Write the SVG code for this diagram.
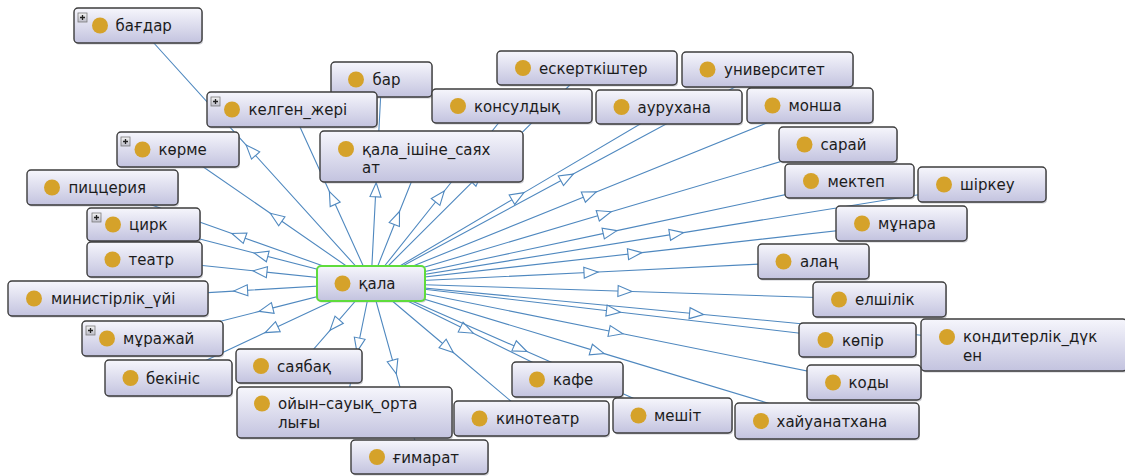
<svg xmlns="http://www.w3.org/2000/svg" width="1125" height="476" viewBox="0 0 1125 476">
<style>
.bg{fill:#fff}
.edges path{fill:none;stroke:#4f88bf;stroke-width:1.1;marker-mid:url(#tri)}
.node rect.box{fill:url(#ng);stroke:#3c3c3c;stroke-width:1.4}
.node rect.sh{fill:#8a8a9a;opacity:.45}
.node circle{fill:#d5a22a}
.node text{font-family:"DejaVu Sans","Noto Sans",sans-serif;font-size:15px;fill:#1c1c1c}
.plus rect{fill:url(#pg);stroke:#7a7a7a;stroke-width:.8}
.plus path{stroke:#222;stroke-width:1.3;fill:none}
#n-qala rect.box{stroke:#5fdc3c;stroke-width:2}
</style>
<defs>
<linearGradient id="ng" x1="0" y1="0" x2="0" y2="1">
<stop offset="0" stop-color="#f6f6fc"/>
<stop offset="1" stop-color="#c3c3df"/>
</linearGradient>
<linearGradient id="pg" x1="0" y1="0" x2="0" y2="1">
<stop offset="0" stop-color="#f4f4f4"/>
<stop offset="1" stop-color="#bcbcc8"/>
</linearGradient>
<marker id="tri" markerUnits="userSpaceOnUse" viewBox="-16 -8 18 16" refX="0" refY="0" markerWidth="18" markerHeight="16" orient="auto" overflow="visible">
<path d="M0,0 L-14,-5.5 L-14,5.5 Z" fill="#fff" stroke="#4f88bf" stroke-width="1.1" stroke-linejoin="miter"/>
</marker>
</defs>
<rect class="bg" x="0" y="0" width="1125" height="476"/>
<g id="connectors" class="edges">
<path d="M371 283 L246.2 145.1 L138 25.5"/>
<path d="M371 283 L329.4 191.6 L292 109.5"/>
<path d="M371 283 L376.2 182.8 L381.5 79.5"/>
<path d="M371 283 L270.3 213.3 L178 149.5"/>
<path d="M371 283 L399.5 211.5 L421.5 156.5"/>
<path d="M371 283 L482 172.4 L587 68"/>
<path d="M371 283 L573.2 174.1 L767.5 69.5"/>
<path d="M371 283 L444.3 191 L512 106"/>
<path d="M371 283 L524 192.6 L669 107"/>
<path d="M371 283 L596.3 191.9 L810 105.5"/>
<path d="M371 283 L611.2 211.8 L838 144.5"/>
<path d="M371 283 L616.9 230.6 L849.5 181"/>
<path d="M371 283 L683.5 232.6 L982 184.5"/>
<path d="M371 283 L641.9 252.6 L901.5 223.5"/>
<path d="M371 283 L598 272 L813.5 261.5"/>
<path d="M371 283 L632 291.5 L879.5 299.5"/>
<path d="M371 283 L620.4 312.2 L857.5 340"/>
<path d="M371 283 L703.5 314.5 L1024 345"/>
<path d="M371 283 L622.8 333.8 L864 382.5"/>
<path d="M371 283 L604.2 353.6 L827 421"/>
<path d="M371 283 L231.9 233.5 L102.5 187.5"/>
<path d="M371 283 L254.2 253 L143.5 224.5"/>
<path d="M371 283 L253 270.8 L144.5 259.5"/>
<path d="M371 283 L233.6 291.1 L108 298.5"/>
<path d="M371 283 L259.2 311.4 L152.5 338.5"/>
<path d="M371 283 L265.2 332.6 L168.5 378"/>
<path d="M371 283 L330 330.3 L299 366"/>
<path d="M371 283 L356.9 351.9 L344.5 412.5"/>
<path d="M371 283 L396.3 373.8 L419.5 457"/>
<path d="M371 283 L453.3 352.5 L531.5 418.5"/>
<path d="M371 283 L473.2 333.2 L567.5 379.5"/>
<path d="M371 283 L526.9 351.5 L672.5 415.5"/>
</g>
<g id="n-bagdar" class="node"><rect class="sh" x="75" y="9.5" width="128" height="35" rx="4"/><rect class="box" x="74" y="8" width="128" height="35" rx="4"/><g class="plus"><rect x="78" y="13" width="9" height="9"/><path d="M80 17.5h5M82.5 15v5"/></g><circle cx="100" cy="25.5" r="8"/><text x="115.5" y="31">бағдар</text></g>
<g id="n-bar" class="node"><rect class="sh" x="332" y="63.5" width="101" height="35" rx="4"/><rect class="box" x="331" y="62" width="101" height="35" rx="4"/><circle cx="356" cy="79.5" r="8"/><text x="372.5" y="85">бар</text></g>
<g id="n-kelgen" class="node"><rect class="sh" x="208" y="93.5" width="170" height="35" rx="4"/><rect class="box" x="207" y="92" width="170" height="35" rx="4"/><g class="plus"><rect x="211" y="97" width="9" height="9"/><path d="M213 101.5h5M215.5 99v5"/></g><circle cx="232" cy="109.5" r="8"/><text x="248.5" y="115">келген_жері</text></g>
<g id="n-korme" class="node"><rect class="sh" x="118" y="133.5" width="122" height="35" rx="4"/><rect class="box" x="117" y="132" width="122" height="35" rx="4"/><g class="plus"><rect x="121" y="137" width="9" height="9"/><path d="M123 141.5h5M125.5 139v5"/></g><circle cx="142.5" cy="149.5" r="8"/><text x="158.5" y="155">көрме</text></g>
<g id="n-qala-ishine" class="node"><rect class="sh" x="321" y="132.5" width="203" height="51" rx="4"/><rect class="box" x="320" y="131" width="203" height="51" rx="4"/><circle cx="346" cy="149" r="8"/><text x="362" y="154.5">қала_ішіне_саях</text><text x="362" y="172.5">ат</text></g>
<g id="n-eskertkishter" class="node"><rect class="sh" x="498" y="52.5" width="180" height="34" rx="4"/><rect class="box" x="497" y="51" width="180" height="34" rx="4"/><circle cx="523" cy="68" r="8"/><text x="539" y="73.5">ескерткіштер</text></g>
<g id="n-universitet" class="node"><rect class="sh" x="683" y="53.5" width="171" height="35" rx="4"/><rect class="box" x="682" y="52" width="171" height="35" rx="4"/><circle cx="707.5" cy="69.5" r="8"/><text x="724" y="75">университет</text></g>
<g id="n-konsuldyq" class="node"><rect class="sh" x="433" y="90.5" width="160" height="34" rx="4"/><rect class="box" x="432" y="89" width="160" height="34" rx="4"/><circle cx="458" cy="106" r="8"/><text x="474" y="111.5">консулдық</text></g>
<g id="n-aurukhana" class="node"><rect class="sh" x="597" y="91.5" width="146" height="34" rx="4"/><rect class="box" x="596" y="90" width="146" height="34" rx="4"/><circle cx="621.5" cy="107" r="8"/><text x="637.5" y="112.5">аурухана</text></g>
<g id="n-monsha" class="node"><rect class="sh" x="748" y="89.5" width="126" height="35" rx="4"/><rect class="box" x="747" y="88" width="126" height="35" rx="4"/><circle cx="772.5" cy="105.5" r="8"/><text x="788.5" y="111">монша</text></g>
<g id="n-saray" class="node"><rect class="sh" x="780" y="128.5" width="118" height="35" rx="4"/><rect class="box" x="779" y="127" width="118" height="35" rx="4"/><circle cx="804.5" cy="144.5" r="8"/><text x="820.5" y="150">сарай</text></g>
<g id="n-mektep" class="node"><rect class="sh" x="786" y="165.5" width="129" height="34" rx="4"/><rect class="box" x="785" y="164" width="129" height="34" rx="4"/><circle cx="811" cy="181" r="8"/><text x="827.5" y="186.5">мектеп</text></g>
<g id="n-shirkeu" class="node"><rect class="sh" x="919" y="168.5" width="128" height="35" rx="4"/><rect class="box" x="918" y="167" width="128" height="35" rx="4"/><circle cx="944" cy="184.5" r="8"/><text x="960" y="190">шіркеу</text></g>
<g id="n-munara" class="node"><rect class="sh" x="837" y="207.5" width="131" height="35" rx="4"/><rect class="box" x="836" y="206" width="131" height="35" rx="4"/><circle cx="862" cy="223.5" r="8"/><text x="878" y="229">мұнара</text></g>
<g id="n-alan" class="node"><rect class="sh" x="759" y="245.5" width="111" height="35" rx="4"/><rect class="box" x="758" y="244" width="111" height="35" rx="4"/><circle cx="783.5" cy="261.5" r="8"/><text x="800" y="267">алаң</text></g>
<g id="n-elshilik" class="node"><rect class="sh" x="814" y="283.5" width="133" height="35" rx="4"/><rect class="box" x="813" y="282" width="133" height="35" rx="4"/><circle cx="839" cy="299.5" r="8"/><text x="855" y="305">елшілік</text></g>
<g id="n-kopir" class="node"><rect class="sh" x="800" y="324.5" width="117" height="34" rx="4"/><rect class="box" x="799" y="323" width="117" height="34" rx="4"/><circle cx="825.5" cy="340" r="8"/><text x="842" y="345.5">көпір</text></g>
<g id="n-konditerlik" class="node"><rect class="sh" x="922" y="320.5" width="206" height="52" rx="4"/><rect class="box" x="921" y="319" width="206" height="52" rx="4"/><circle cx="947" cy="337" r="8"/><text x="963" y="342">кондитерлік_дүк</text><text x="963" y="360.5">ен</text></g>
<g id="n-kody" class="node"><rect class="sh" x="808" y="366.5" width="114" height="35" rx="4"/><rect class="box" x="807" y="365" width="114" height="35" rx="4"/><circle cx="833" cy="382.5" r="8"/><text x="848.5" y="388">коды</text></g>
<g id="n-khayuanatkhana" class="node"><rect class="sh" x="736" y="404.5" width="184" height="36" rx="4"/><rect class="box" x="735" y="403" width="184" height="36" rx="4"/><circle cx="761" cy="421" r="8"/><text x="776.5" y="426.5">хайуанатхана</text></g>
<g id="n-pitstseriya" class="node"><rect class="sh" x="28" y="171.5" width="151" height="35" rx="4"/><rect class="box" x="27" y="170" width="151" height="35" rx="4"/><circle cx="52" cy="187.5" r="8"/><text x="68.5" y="193">пиццерия</text></g>
<g id="n-tsirk" class="node"><rect class="sh" x="88" y="209.5" width="113" height="33" rx="4"/><rect class="box" x="87" y="208" width="113" height="33" rx="4"/><g class="plus"><rect x="92" y="213" width="9" height="9"/><path d="M94 217.5h5M96.5 215v5"/></g><circle cx="113" cy="224.5" r="8"/><text x="129" y="230">цирк</text></g>
<g id="n-teatr" class="node"><rect class="sh" x="88" y="243.5" width="115" height="35" rx="4"/><rect class="box" x="87" y="242" width="115" height="35" rx="4"/><circle cx="112.5" cy="259.5" r="8"/><text x="128.5" y="265">театр</text></g>
<g id="n-ministrlik" class="node"><rect class="sh" x="9" y="282.5" width="200" height="35" rx="4"/><rect class="box" x="8" y="281" width="200" height="35" rx="4"/><circle cx="34" cy="298.5" r="8"/><text x="51" y="304">министірлік_үйі</text></g>
<g id="n-murazhay" class="node"><rect class="sh" x="83" y="322.5" width="141" height="35" rx="4"/><rect class="box" x="82" y="321" width="141" height="35" rx="4"/><g class="plus"><rect x="86" y="326" width="9" height="9"/><path d="M88 330.5h5M90.5 328v5"/></g><circle cx="107" cy="338.5" r="8"/><text x="123" y="344">мұражай</text></g>
<g id="n-bekinis" class="node"><rect class="sh" x="106" y="361.5" width="127" height="36" rx="4"/><rect class="box" x="105" y="360" width="127" height="36" rx="4"/><circle cx="130.5" cy="378" r="8"/><text x="146" y="383.5">бекініс</text></g>
<g id="n-sayabaq" class="node"><rect class="sh" x="237" y="350.5" width="126" height="34" rx="4"/><rect class="box" x="236" y="349" width="126" height="34" rx="4"/><circle cx="261" cy="366" r="8"/><text x="277" y="371.5">саябақ</text></g>
<g id="n-oyyn" class="node"><rect class="sh" x="238" y="388.5" width="215" height="51" rx="4"/><rect class="box" x="237" y="387" width="215" height="51" rx="4"/><circle cx="262" cy="403.5" r="8"/><text x="278" y="409">ойын–сауық_орта</text><text x="278" y="427.5">лығы</text></g>
<g id="n-gimarat" class="node"><rect class="sh" x="352" y="441.5" width="137" height="34" rx="4"/><rect class="box" x="351" y="440" width="137" height="34" rx="4"/><circle cx="377" cy="457" r="8"/><text x="392.5" y="462.5">ғимарат</text></g>
<g id="n-kinoteatr" class="node"><rect class="sh" x="455" y="402.5" width="155" height="35" rx="4"/><rect class="box" x="454" y="401" width="155" height="35" rx="4"/><circle cx="479.5" cy="418.5" r="8"/><text x="496" y="424">кинотеатр</text></g>
<g id="n-kafe" class="node"><rect class="sh" x="513" y="363.5" width="111" height="35" rx="4"/><rect class="box" x="512" y="362" width="111" height="35" rx="4"/><circle cx="537" cy="379.5" r="8"/><text x="553" y="385">кафе</text></g>
<g id="n-meshit" class="node"><rect class="sh" x="614" y="399.5" width="119" height="35" rx="4"/><rect class="box" x="613" y="398" width="119" height="35" rx="4"/><circle cx="638.5" cy="415.5" r="8"/><text x="654" y="421">мешіт</text></g>
<g id="n-qala" class="node"><rect class="sh" x="318" y="267.5" width="108" height="35" rx="4"/><rect class="box" x="317" y="266" width="108" height="35" rx="4"/><circle cx="342.5" cy="283.5" r="8"/><text x="358.5" y="289">қала</text></g>
</svg>
